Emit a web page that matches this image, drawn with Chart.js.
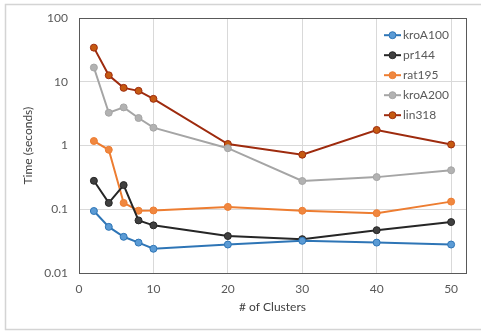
<!DOCTYPE html>
<html lang="en">
<head>
    <meta charset="UTF-8">
    <title>Time vs # of Clusters</title>
    <script src="https://cdn.jsdelivr.net/npm/chart.js"></script>
    <style>
        body {
            margin: 0;
            background-color: #fff;
        }
        #grafico {
            display: block;
        }
    </style>
</head>
<body>
    <canvas id="grafico" width="481" height="332"></canvas>

    <script>
        // dati
        const clusters = [2, 4, 6, 8, 10, 20, 30, 40, 50];
        const kroA100 = [0.094, 0.053, 0.037, 0.030, 0.024, 0.028, 0.032, 0.030, 0.028];
        const pr144 = [0.28, 0.126, 0.24, 0.067, 0.056, 0.038, 0.034, 0.047, 0.063];
        const rat195 = [1.18, 0.86, 0.126, 0.095, 0.096, 0.109, 0.095, 0.087, 0.132];
        const kroA200 = [16.8, 3.28, 3.98, 2.71, 1.91, 0.91, 0.278, 0.32, 0.41];
        const lin318 = [34.5, 12.7, 8.06, 7.24, 5.42, 1.06, 0.72, 1.76, 1.04];
        const serieNomi = ['kroA100', 'pr144', 'rat195', 'kroA200', 'lin318'];
        const yTicks = [0.01, 0.1, 1, 10, 100];
        const xTicks = [0, 10, 20, 30, 40, 50];

        const serie = [kroA100, pr144, rat195, kroA200, lin318];
        const lineColors = ['#2E75B6', '#262626', '#ED7D31', '#A5A5A5', '#9E2B0E'];
        const pointColors = ['#5B9BD5', '#404040', '#F0873F', '#B2B2B2', '#C55A11'];

        const FONT = 'Lato, "Open Sans", sans-serif';

        const dataset = serie.map((vals, i) => ({
            label: serieNomi[i],
            data: vals.map((v, k) => ({ x: clusters[k], y: v })),
            borderColor: lineColors[i],
            backgroundColor: pointColors[i],
            pointBackgroundColor: pointColors[i],
            pointBorderColor: lineColors[i],
            borderWidth: 2,
            pointRadius: 3.5,
            pointBorderWidth: 1,
            tension: 0
        }));

        // cornice esterna, bordo del grafico e legenda interna
        const decorazioni = {
            id: 'decorazioni',
            beforeDraw(chart) {
                const ctx = chart.ctx;
                ctx.save();
                ctx.strokeStyle = '#d4d4d4';
                ctx.lineWidth = 1.5;
                ctx.strokeRect(5.5, 4.5, 480, 325);
                ctx.restore();
            },
            afterDraw(chart) {
                const ctx = chart.ctx;
                const a = chart.chartArea;
                ctx.save();
                ctx.strokeStyle = '#595959';
                ctx.lineWidth = 1;
                ctx.strokeRect(Math.round(a.left) + 0.5, Math.round(a.top) + 0.5,
                    Math.round(a.right - a.left), Math.round(a.bottom - a.top));

                const x0 = a.right - 82;
                ctx.font = '12px ' + FONT;
                ctx.textBaseline = 'middle';
                chart.data.datasets.forEach((ds, i) => {
                    const y = a.top + 17 + i * 20;
                    ctx.strokeStyle = ds.borderColor;
                    ctx.lineWidth = 2;
                    ctx.beginPath();
                    ctx.moveTo(x0, y);
                    ctx.lineTo(x0 + 17, y);
                    ctx.stroke();
                    ctx.beginPath();
                    ctx.arc(x0 + 8.5, y, 3.5, 0, Math.PI * 2);
                    ctx.fillStyle = ds.pointBackgroundColor;
                    ctx.fill();
                    ctx.lineWidth = 1;
                    ctx.stroke();
                    ctx.fillStyle = '#595959';
                    ctx.fillText(ds.label, x0 + 19, y);
                });
                ctx.restore();
            }
        };

        new Chart(document.getElementById('grafico'), {
            type: 'line',
            data: { datasets: dataset },
            options: {
                responsive: false,
                animation: false,
                devicePixelRatio: 1,
                layout: { padding: { top: 17, right: 15, left: 0, bottom: 0 } },
                plugins: {
                    legend: { display: false },
                    tooltip: { enabled: false }
                },
                scales: {
                    x: {
                        type: 'linear',
                        min: 0,
                        max: 52,
                        afterFit(scale) { scale.height = 59; },
                        afterBuildTicks(scale) { scale.ticks = xTicks.map(v => ({ value: v })); },
                        ticks: {
                            padding: 9,
                            color: '#595959',
                            font: { family: FONT, size: 12 }
                        },
                        grid: { color: '#d9d9d9', drawTicks: false, lineWidth: 1 },
                        border: { display: false },
                        title: {
                            display: true,
                            text: '# of Clusters',
                            color: '#404040',
                            font: { family: FONT, size: 12 },
                            padding: { top: 0, bottom: 18 }
                        }
                    },
                    y: {
                        type: 'logarithmic',
                        min: 0.01,
                        max: 100,
                        afterFit(scale) { scale.width = 79; },
                        afterBuildTicks(scale) { scale.ticks = yTicks.map(v => ({ value: v })); },
                        ticks: {
                            padding: 11,
                            color: '#595959',
                            font: { family: FONT, size: 12 },
                            callback: v => String(v)
                        },
                        grid: { color: '#d9d9d9', drawTicks: false, lineWidth: 1 },
                        border: { display: false },
                        title: {
                            display: true,
                            text: 'Time (seconds)',
                            color: '#404040',
                            font: { family: FONT, size: 12 },
                            padding: { top: 21, bottom: 0 }
                        }
                    }
                }
            },
            plugins: [decorazioni]
        });
    </script>
</body>
</html>
